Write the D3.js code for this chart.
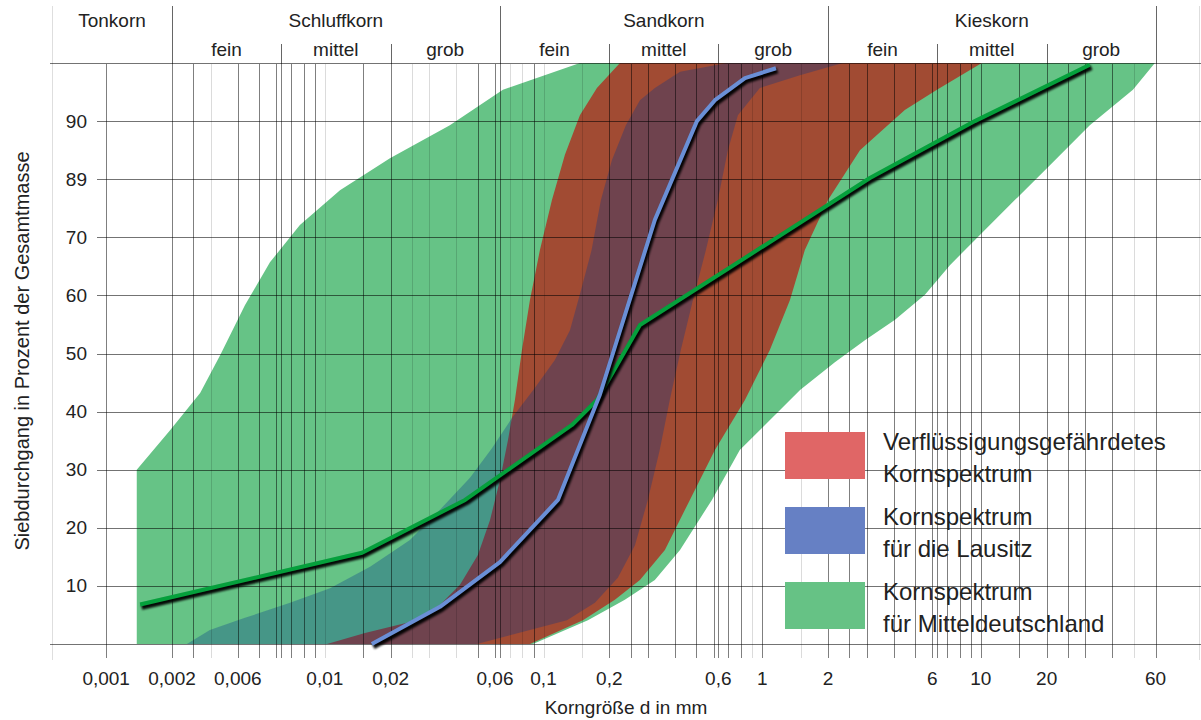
<!DOCTYPE html>
<html><head><meta charset="utf-8">
<script src="https://cdn.jsdelivr.net/npm/d3@7"></script>
<style>
body{margin:0;background:#fff}
svg{display:block}
text{font-family:"Liberation Sans",Arial,Helvetica,sans-serif;fill:#222}
</style>
</head><body>
<svg id="chart" width="1201" height="720"></svg>
<script>
// ---------- data ----------
const xTickValues = [0.001,0.002,0.004,0.01,0.02,0.06,0.1,0.2,0.63,1,2,6,10,20,63];
const xTickLabels = ["0,001","0,002","0,006","0,01","0,02","0,06","0,1","0,2","0,6","1","2","6","10","20","60"];
const yTickValues = [10,20,30,40,50,60,70,80,90];
const yTickLabels = ["10","20","30","40","50","60","70","89","90"];

const fractionBounds = [0.002, 0.063, 2, 63];
const fractionNames = ["Tonkorn","Schluffkorn","Sandkorn","Kieskorn"];
const subBounds = [0.0063, 0.02, 0.2, 0.63, 6.3, 20];
const subNames = ["fein","mittel","grob"];

const gridDark = [0.001,0.002,0.0025,0.004,0.005,0.006,0.0063,0.007,0.008,0.009,0.015,0.02,0.05,0.06,0.063,0.09,
  0.2,0.25,0.3,0.4,0.5,0.6,0.63,0.7,0.8,1,2,2.5,3,4,5,6,6.3,7,8,9,10,15,20,25,30,40,63];
const gridLight = [0.003,0.01,0.025,0.03,0.04,0.07,0.08,0.1,0.15,0.9,1.5,50];

// Kornspektrum für Mitteldeutschland (green band): [d in mm, %]
const mdLeft = [[0.00138,0],[0.00138,30],[0.00196,36.8],[0.00269,43.2],[0.00332,49.7],[0.00431,58.3],[0.00561,65.7],
  [0.00769,72.1],[0.01173,78.1],[0.01985,83.6],[0.0373,89.3],[0.0652,95.4],[0.1467,100]];
const mdRight = [[62.5,100],[49.6,95.4],[31.5,89.3],[20.7,82.4],[14.3,76.4],[9.9,70.4],[7.22,65.2],[5.55,60.1],
  [4.05,55.8],[2.95,52.3],[2.15,48.5],[1.49,43.7],[1.03,37.7],[0.79,33.4],[0.589,24.8],[0.421,16.2],[0.323,11.0],
  [0.2355,7.6],[0.1596,4.1],[0.0895,0]];

// Verflüssigungsgefährdetes Kornspektrum (red band)
const vfLeft = [[0.01023,0],[0.01526,1.9],[0.0245,3.8],[0.0336,6.7],[0.0415,10.2],[0.0501,15.3],[0.0569,21.3],
  [0.0632,28.2],[0.0688,35.1],[0.074,42.0],[0.0797,50.6],[0.0867,59.2],[0.0963,67.8],[0.1093,76.4],[0.1253,84.2],
  [0.1467,91.0],[0.1755,95.7],[0.2236,100]];
const vfRight = [[10.1,100],[6.3,95.4],[4.49,91.9],[2.8,85.0],[2.0,76.4],[1.567,67.8],[1.34,59.2],[1.084,50.6],
  [0.834,42.0],[0.608,33.4],[0.467,24.8],[0.359,16.2],[0.276,11.0],[0.212,7.6],[0.1514,4.1],[0.0867,0]];

// Kornspektrum für die Lausitz (blue band)
const lzLeft = [[0.00234,0],[0.00298,2.4],[0.00431,4.5],[0.00693,7.1],[0.01056,9.6],[0.0161,13.3],[0.0245,17.9],
  [0.0336,23.1],[0.0461,28.6],[0.0581,33.7],[0.0717,38.9],[0.0914,44.1],[0.1127,48.9],[0.1321,54.0],[0.1484,60.9],
  [0.1659,67.8],[0.183,76.4],[0.2056,83.3],[0.238,89.3],[0.276,93.6],[0.323,95.7],[0.421,98.5],[0.690,100]];
const lzRight = [[2.34,100],[1.488,97.9],[0.976,95.7],[0.7745,91.0],[0.697,85.0],[0.627,76.4],[0.553,67.8],
  [0.4824,59.2],[0.4246,50.6],[0.378,42.0],[0.340,33.4],[0.300,24.8],[0.262,17.0],[0.2188,11.4],[0.1718,7.1],
  [0.128,4.1],[0.0496,0]];

// median curves
const mdMedian = [[0.00143,6.8],[0.0148,15.7],[0.0438,24.8],[0.1349,37.7],[0.1755,42.0],[0.276,54.9],[3.11,80.2],[9.39,90.0],[31.5,99.7]];
const lzMedian = [[0.0164,0],[0.0336,6.4],[0.0632,14.1],[0.1164,24.8],[0.181,42.9],[0.323,73.0],[0.503,90.0],
  [0.608,93.6],[0.834,97.4],[1.156,99.1]];

const legendItems = [
  {color:"#e06666", lines:["Verflüssigungsgefährdetes","Kornspektrum"]},
  {color:"#6680c4", lines:["Kornspektrum","für die Lausitz"]},
  {color:"#66c285", lines:["Kornspektrum","für Mitteldeutschland"]}
];

// ---------- layout ----------
const svg = d3.select("#chart");
const W = 1201, H = 720;
const plotLeft = 52, plotRight = 1201;
const x = d3.scaleLog().domain([0.002, 2]).range([172, 828]);
const y = d3.scaleLinear().domain([0, 100]).range([644, 63]);
const sx = v => Math.round(x(v)) + 0.5;
const sy = v => Math.round(y(v)) + 0.5;

svg.append("rect").attr("width", W).attr("height", H).attr("fill", "#fff");

const defs = svg.append("defs");
defs.append("filter").attr("id","blur").attr("x","-5%").attr("y","-5%").attr("width","110%").attr("height","110%")
  .append("feGaussianBlur").attr("stdDeviation", 1);

const area = d3.line().x(d => x(d[0])).y(d => y(d[1]));
function band(left, right){ return area(left.concat(right)) + "Z"; }

const gFill = svg.append("g");
gFill.append("path").attr("d", band(mdLeft, mdRight)).attr("fill", "#66c386");
gFill.append("path").attr("d", band(vfLeft, vfRight)).attr("fill", "#a14b33");
gFill.append("path").attr("d", band(lzLeft, lzRight)).attr("fill", "rgb(0,52,140)").attr("fill-opacity", 0.31);

// ---------- grid ----------
const gGrid = svg.append("g").attr("shape-rendering", "crispEdges");
gGrid.selectAll("line.vl").data(gridLight).join("line")
  .attr("x1", d => sx(d)).attr("x2", d => sx(d)).attr("y1", sy(100)).attr("y2", 658)
  .attr("stroke", "#000").attr("stroke-opacity", 0.14);
gGrid.selectAll("line.vd").data(gridDark).join("line")
  .attr("x1", d => sx(d)).attr("x2", d => sx(d)).attr("y1", sy(100)).attr("y2", 658)
  .attr("stroke", "#000").attr("stroke-opacity", 0.5);
// left/right edge lines
[plotLeft, plotRight - 2].forEach(px => {
  gGrid.append("line").attr("x1", px + 0.5).attr("x2", px + 0.5).attr("y1", 6).attr("y2", 660)
    .attr("stroke", "#000").attr("stroke-opacity", 0.13);
});
// horizontal grid
gGrid.selectAll("line.h").data(yTickValues).join("line")
  .attr("x1", 97).attr("x2", plotRight).attr("y1", d => sy(d)).attr("y2", d => sy(d))
  .attr("stroke", "#000").attr("stroke-opacity", 0.55);
[0, 100].forEach(v => {
  gGrid.append("line").attr("x1", 50).attr("x2", plotRight).attr("y1", sy(v)).attr("y2", sy(v))
    .attr("stroke", "#000").attr("stroke-opacity", 0.55);
});
// header dividers
gGrid.selectAll("line.fb").data(fractionBounds).join("line")
  .attr("x1", d => sx(d)).attr("x2", d => sx(d)).attr("y1", 6).attr("y2", sy(100))
  .attr("stroke", "#000").attr("stroke-opacity", 0.6);
gGrid.selectAll("line.sb").data(subBounds).join("line")
  .attr("x1", d => sx(d)).attr("x2", d => sx(d)).attr("y1", 44).attr("y2", sy(100))
  .attr("stroke", "#000").attr("stroke-opacity", 0.6);

// ---------- median lines ----------
const line = d3.line().x(d => x(d[0])).y(d => y(d[1]));
const gLines = svg.append("g");
function drawMedian(data, color){
  gLines.append("path").attr("d", line(data)).attr("transform", "translate(1.5,2.5)")
    .attr("fill", "none").attr("stroke", "#000").attr("stroke-width", 5.5).attr("stroke-linejoin", "round")
    .attr("filter", "url(#blur)").attr("opacity", 0.95);
  gLines.append("path").attr("d", line(data))
    .attr("fill", "none").attr("stroke", color).attr("stroke-width", 4).attr("stroke-linejoin", "round");
}
drawMedian(mdMedian, "#05a03c");
drawMedian(lzMedian, "#6a8fd6");

// ---------- axes text ----------
const fs = 19;
svg.selectAll("text.xt").data(xTickValues).join("text")
  .attr("x", d => x(d)).attr("y", 685).attr("text-anchor", "middle")
  .attr("font-size", fs).text((d, i) => xTickLabels[i]);
svg.selectAll("text.yt").data(yTickValues).join("text")
  .attr("x", 87).attr("y", d => y(d) + 6.5).attr("text-anchor", "end")
  .attr("font-size", fs).text((d, i) => yTickLabels[i]);
svg.append("text").attr("x", 626).attr("y", 714).attr("text-anchor", "middle")
  .attr("font-size", fs).text("Korngröße d in mm");
svg.append("text").attr("transform", "translate(29,351) rotate(-90)").attr("text-anchor", "middle")
  .attr("font-size", 20).text("Siebdurchgang in Prozent der Gesamtmasse");

// header labels
const fracEdges = [plotLeft].concat(fractionBounds.map(d => x(d)));
svg.selectAll("text.fn").data(fractionNames).join("text")
  .attr("x", (d, i) => (fracEdges[i] + fracEdges[i + 1]) / 2).attr("y", 27)
  .attr("text-anchor", "middle").attr("font-size", fs).text(d => d);
const subEdges = [];
for (let f = 1; f < 4; f++) {
  const e = [x(fractionBounds[f - 1]), x(subBounds[(f - 1) * 2]), x(subBounds[(f - 1) * 2 + 1]), x(fractionBounds[f])];
  for (let k = 0; k < 3; k++) subEdges.push({name: subNames[k], cx: (e[k] + e[k + 1]) / 2});
}
svg.selectAll("text.sn").data(subEdges).join("text")
  .attr("x", d => d.cx).attr("y", 56).attr("text-anchor", "middle").attr("font-size", fs).text(d => d.name);

// ---------- legend ----------
const gLeg = svg.append("g");
legendItems.forEach((it, i) => {
  const top = 432 + i * 75;
  gLeg.append("rect").attr("x", 785).attr("y", top).attr("width", 80).attr("height", 47).attr("fill", it.color);
  it.lines.forEach((t, j) => {
    gLeg.append("text").attr("x", 883).attr("y", top + 18 + j * 32).attr("font-size", 24).text(t);
  });
});
</script>
</body></html>
